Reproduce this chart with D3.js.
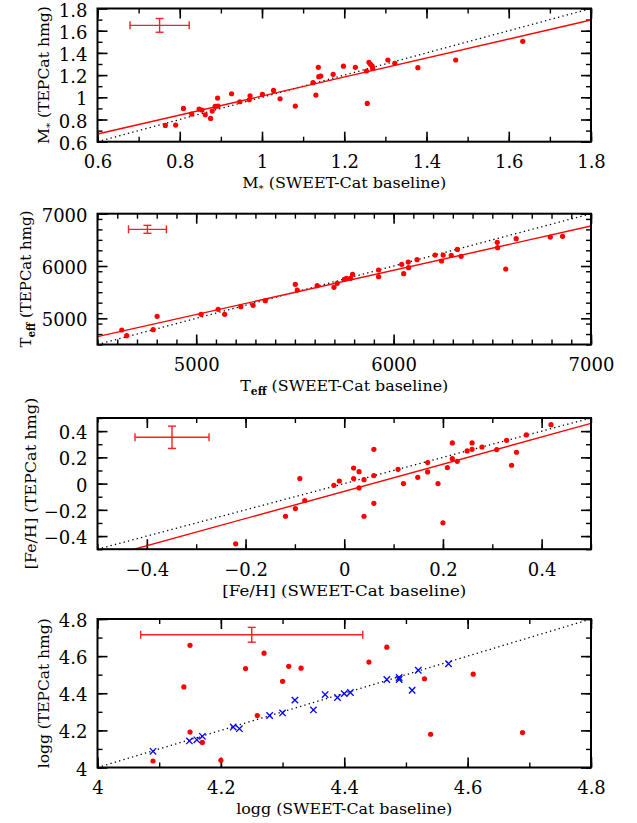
<!DOCTYPE html>
<html>
<head>
<meta charset="utf-8">
<script src="https://cdn.jsdelivr.net/npm/d3@7"></script>
<style>
  body { margin: 0; background: #fff; }
  svg { display: block; }
  .tick-label text { font-family: "DejaVu Serif", serif; font-size: 18px; fill: #000; }
  .axis-label { font-family: "DejaVu Serif", serif; font-size: 15.5px; fill: #000; }
</style>
</head>
<body>
<svg></svg>
<script>
// ---- panel 1: stellar mass
const massX = [0.765, 0.790, 0.809, 0.829, 0.847, 0.854, 0.862, 0.875, 0.879, 0.886, 0.893, 0.892,
  0.926, 0.946, 0.969, 0.971, 1.001, 1.028, 1.044, 1.081, 1.124, 1.131, 1.137, 1.138, 1.143,
  1.173, 1.198, 1.227, 1.254, 1.256, 1.260, 1.264, 1.268, 1.269, 1.306, 1.323, 1.379, 1.471, 1.634];
const massY = [0.747, 0.750, 0.900, 0.849, 0.894, 0.885, 0.843, 0.810, 0.876, 0.918, 0.921, 0.993,
  1.032, 0.960, 0.978, 1.014, 1.026, 1.062, 0.987, 0.921, 1.132, 1.020, 1.270, 1.186, 1.192,
  1.207, 1.280, 1.270, 1.237, 0.945, 1.315, 1.297, 1.280, 1.260, 1.336, 1.306, 1.267, 1.336, 1.504];
const massFitX = [0.6, 1.8];
const massFitY = [0.669, 1.696];
const massErr = [0.751, 1.648, 0.072, 0.062]; // x, y, dx, dy
const massTicks = [0.6, 0.8, 1, 1.2, 1.4, 1.6, 1.8];
const massTickLabels = ["0.6", "0.8", "1", "1.2", "1.4", "1.6", "1.8"];

// ---- panel 2: effective temperature
const teffX = [4623, 4648, 4782, 4802, 5025, 5111, 5144, 5226, 5288, 5350, 5502, 5512, 5613,
  5698, 5714, 5751, 5761, 5782, 5792, 5924, 5924, 6041, 6051, 6074, 6076, 6119, 6210, 6243,
  6251, 6292, 6323, 6342, 6525, 6527, 6568, 6621, 6794, 6856];
const teffY = [4777, 4669, 4783, 5038, 5076, 5172, 5076, 5223, 5248, 5338, 5650, 5541, 5624,
  5592, 5669, 5745, 5764, 5764, 5841, 5924, 5796, 6032, 5854, 6076, 5968, 6121, 6210, 6096,
  6210, 6204, 6318, 6185, 6452, 6350, 5943, 6522, 6554, 6567];
const teffFitX = [4500, 7000];
const teffFitY = [4650, 6764];
const teffErr = [4753, 6701, 96, 76];
const teffTicks = [5000, 6000, 7000];
const teffTickLabels = ["5000", "6000", "7000"];

// ---- panel 3: metallicity
const fehX = [-0.220, -0.119, -0.099, -0.090, -0.080, -0.021, -0.010, 0.019, 0.019, 0.030, 0.030,
  0.040, 0.040, 0.060, 0.060, 0.060, 0.109, 0.120, 0.149, 0.169, 0.169, 0.190, 0.200, 0.209,
  0.219, 0.219, 0.229, 0.249, 0.259, 0.259, 0.279, 0.309, 0.329, 0.339, 0.349, 0.369, 0.419];
const fehY = [-0.459, -0.249, -0.190, 0.038, -0.129, -0.013, 0.020, 0.119, 0.038, 0.091, -0.033,
  0.030, -0.249, 0.261, 0.061, -0.150, 0.109, 0.000, 0.048, 0.160, 0.089, 0.000, -0.299, 0.122,
  0.310, 0.190, 0.170, 0.249, 0.310, 0.261, 0.279, 0.259, 0.330, 0.140, 0.239, 0.371, 0.449];
const fehFitX = [-0.5, 0.5];
const fehFitY = [-0.577, 0.459];
const fehErr = [-0.349, 0.353, 0.075, 0.085];
const fehTicks = [-0.4, -0.2, 0, 0.2, 0.4];
const fehTickLabels = ["\u22120.4", "\u22120.2", "0", "0.2", "0.4"];

// ---- panel 4: surface gravity
const loggX = [4.090, 4.140, 4.150, 4.150, 4.170, 4.200, 4.240, 4.259, 4.270, 4.300, 4.310,
  4.330, 4.440, 4.469, 4.530, 4.540, 4.609, 4.689];
const loggY = [4.035, 4.434, 4.658, 4.191, 4.135, 4.039, 4.533, 4.280, 4.616, 4.464, 4.545,
  4.535, 4.568, 4.648, 4.478, 4.179, 4.503, 4.188];
const loggCrossX = [4.090, 4.149, 4.161, 4.170, 4.220, 4.230, 4.279, 4.300, 4.320, 4.350, 4.369,
  4.389, 4.400, 4.410, 4.469, 4.489, 4.489, 4.510, 4.520, 4.569];
const loggCrossY = [4.087, 4.143, 4.149, 4.168, 4.218, 4.209, 4.280, 4.294, 4.363, 4.310, 4.393,
  4.377, 4.398, 4.404, 4.474, 4.485, 4.474, 4.416, 4.524, 4.559];
const loggErr = [4.250, 4.715, 0.180, 0.040];
const loggTicks = [4, 4.2, 4.4, 4.6, 4.8];
const loggTickLabels = ["4", "4.2", "4.4", "4.6", "4.8"];

const left = 97.5, right = 591;

const svg = d3.select("svg").attr("width", 637).attr("height", 823);

const panels = [
  { xs: massX, ys: massY, domain: [0.6, 1.8], top: 8.5, bottom: 141.7,
    ticks: massTicks, labels: massTickLabels, minorX: 0.1, minorY: 0.1,
    fitX: massFitX, fitY: massFitY, err: massErr,
    xLabel: [["M"], ["*", "star"], [" (SWEET-Cat baseline)"]], xLen: 204,
    yLabel: [["M"], ["*", "star"], [" (TEPCat hmg)"]], yLen: 138, yLabelX: 48.5 },
  { xs: teffX, ys: teffY, domain: [4500, 7000], top: 213.7, bottom: 344.5,
    ticks: teffTicks, labels: teffTickLabels, minorX: 100, minorY: 200,
    fitX: teffFitX, fitY: teffFitY, err: teffErr,
    xLabel: [["T"], ["eff", "sub"], [" (SWEET-Cat baseline)"]], xLen: 208,
    yLabel: [["T"], ["eff", "sub"], [" (TEPCat hmg)"]], yLen: 137, yLabelX: 31 },
  { xs: fehX, ys: fehY, domain: [-0.5, 0.5], top: 418, bottom: 549.2,
    ticks: fehTicks, labels: fehTickLabels, minorX: 0.1, minorY: 0.1,
    fitX: fehFitX, fitY: fehFitY, err: fehErr,
    xLabel: [["[Fe/H]  (SWEET-Cat baseline)"]], xLen: 244,
    yLabel: [["[Fe/H] (TEPCat hmg)"]], yLen: 172, yLabelX: 36 },
  { xs: loggX, ys: loggY, domain: [4, 4.8], top: 619, bottom: 767.5,
    ticks: loggTicks, labels: loggTickLabels, minorX: 0.1, minorY: 0.1,
    crossX: loggCrossX, crossY: loggCrossY, err: loggErr,
    xLabel: [["logg (SWEET-Cat baseline)"]], xLen: 216,
    yLabel: [["logg (TEPCat hmg)"]], yLen: 150, yLabelX: 49 }
];

function addLabel(g, pieces, len) {
  const t = g.append("text").attr("class", "axis-label")
    .attr("text-anchor", "middle")
    .attr("textLength", len).attr("lengthAdjust", "spacingAndGlyphs");
  pieces.forEach(([s, kind]) => {
    const ts = t.append("tspan").text(s);
    if (kind === "star") ts.attr("font-size", 10).attr("dy", 4);
    else if (kind === "sub") ts.attr("font-size", 10.5).attr("font-weight", "bold").attr("dy", 4);
    else if (t.selectAll("tspan").size() > 1) ts.attr("dy", -4);
  });
  return t;
}

panels.forEach((p, i) => {
  const x = d3.scaleLinear().domain(p.domain).range([left, right]);
  const y = d3.scaleLinear().domain(p.domain).range([p.bottom, p.top]);
  const g = svg.append("g");

  g.append("clipPath").attr("id", "clip" + i)
    .append("rect")
    .attr("x", left).attr("y", p.top)
    .attr("width", right - left).attr("height", p.bottom - p.top);

  const minorX = d3.range(p.domain[0], p.domain[1] + p.minorX / 2, p.minorX);
  const minorY = d3.range(p.domain[0], p.domain[1] + p.minorY / 2, p.minorY);

  // ticks on all four sides, pointing inwards
  const sides = [
    [d3.axisBottom(x), `translate(0,${p.bottom})`, minorX],
    [d3.axisTop(x), `translate(0,${p.top})`, minorX],
    [d3.axisLeft(y), `translate(${left},0)`, minorY],
    [d3.axisRight(y), `translate(${right},0)`, minorY]
  ];
  sides.forEach(([axis, tr, minor]) => {
    g.append("g").attr("transform", tr)
      .call(axis.tickValues(minor).tickSizeInner(-5).tickSizeOuter(0).tickFormat(""))
      .call(a => a.select(".domain").remove())
      .selectAll("line").attr("stroke-width", 1.4);
    g.append("g").attr("transform", tr)
      .call(axis.tickValues(p.ticks).tickSizeInner(-10).tickSizeOuter(0).tickFormat(""))
      .call(a => a.select(".domain").remove())
      .selectAll("line").attr("stroke-width", 1.6);
  });

  // tick labels
  g.append("g").attr("class", "tick-label")
    .attr("transform", `translate(0,${p.bottom})`)
    .call(d3.axisBottom(x).tickValues(p.ticks).tickSize(0).tickPadding(14)
      .tickFormat((d, j) => p.labels[j]))
    .call(a => a.select(".domain").remove());
  g.append("g").attr("class", "tick-label")
    .attr("transform", `translate(${left},0)`)
    .call(d3.axisLeft(y).tickValues(p.ticks).tickSize(0).tickPadding(10)
      .tickFormat((d, j) => p.labels[j]))
    .call(a => a.select(".domain").remove())
    .call(a => a.selectAll("text").attr("dy", "0.42em"));

  const plot = g.append("g").attr("clip-path", `url(#clip${i})`);

  // 1:1 line
  plot.append("path")
    .datum(p.domain)
    .attr("d", d3.line().x(d => x(d)).y(d => y(d)))
    .attr("fill", "none").attr("stroke", "#000")
    .attr("stroke-width", 1.3).attr("stroke-dasharray", "1.3,3.2");

  // fitted relation
  if (p.fitX) {
    plot.append("path")
      .datum(d3.zip(p.fitX, p.fitY))
      .attr("d", d3.line().x(d => x(d[0])).y(d => y(d[1])))
      .attr("fill", "none").attr("stroke", "#ff0000").attr("stroke-width", 1.4);
  }

  // points
  plot.selectAll("circle.pt")
    .data(d3.zip(p.xs, p.ys))
    .join("circle").attr("class", "pt")
    .attr("cx", d => x(d[0])).attr("cy", d => y(d[1]))
    .attr("r", 2.6).attr("fill", "#ff0000");

  if (p.crossX) {
    plot.selectAll("path.cross")
      .data(d3.zip(p.crossX, p.crossY))
      .join("path").attr("class", "cross")
      .attr("transform", d => `translate(${x(d[0])},${y(d[1])})`)
      .attr("d", "M-3.2,-3.2L3.2,3.2M-3.2,3.2L3.2,-3.2")
      .attr("stroke", "#0000ff").attr("stroke-width", 1.3).attr("fill", "none");
  }

  // representative error bar
  const [ex, ey, edx, edy] = p.err;
  const eb = g.append("g").attr("stroke", "#ff2020").attr("stroke-width", 1.4).attr("fill", "none");
  const cap = 4;
  eb.append("line").attr("x1", x(ex - edx)).attr("x2", x(ex + edx)).attr("y1", y(ey)).attr("y2", y(ey));
  eb.append("line").attr("x1", x(ex)).attr("x2", x(ex)).attr("y1", y(ey - edy)).attr("y2", y(ey + edy));
  [ex - edx, ex + edx].forEach(v => eb.append("line")
    .attr("x1", x(v)).attr("x2", x(v)).attr("y1", y(ey) - cap).attr("y2", y(ey) + cap));
  [ey - edy, ey + edy].forEach(v => eb.append("line")
    .attr("x1", x(ex) - cap).attr("x2", x(ex) + cap).attr("y1", y(v)).attr("y2", y(v)));

  // frame
  g.append("rect")
    .attr("x", left).attr("y", p.top)
    .attr("width", right - left).attr("height", p.bottom - p.top)
    .attr("fill", "none").attr("stroke", "#000").attr("stroke-width", 2);

  // axis titles
  addLabel(g, p.xLabel, p.xLen)
    .attr("x", (left + right) / 2).attr("y", p.bottom + 46.5);
  addLabel(g, p.yLabel, p.yLen)
    .attr("transform", `translate(${p.yLabelX},${(p.top + p.bottom) / 2}) rotate(-90)`);
});
</script>
</body>
</html>
